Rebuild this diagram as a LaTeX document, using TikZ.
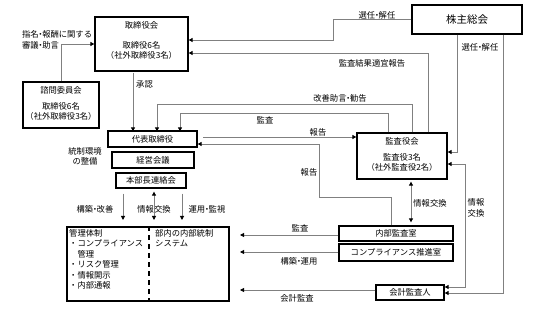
\documentclass[tikz,border=0pt]{standalone}
\usepackage{fontspec}
\setmainfont{Noto Sans CJK JP}
\usetikzlibrary{arrows.meta}
\newcommand{\nd}{\makebox[0.42em][c]{・}}
\begin{document}
\begin{tikzpicture}[x=1pt,y=-1pt,
  box/.style={draw=black, line width=1.3pt, inner sep=0pt},
  lbl/.style={font=\fontsize{8.3}{10.5}\selectfont, inner sep=0pt, align=center},
  conn/.style={draw=black!50, line width=0.9pt},
  tip/.style={-{Triangle[length=4pt,width=4pt,color=black]}},
  tips/.style={{Triangle[length=4pt,width=4pt,color=black]}-{Triangle[length=4pt,width=4pt,color=black]}}
]
\useasboundingbox (0,0) rectangle (533,315);

% boxes
\node[box, minimum width=93pt, minimum height=54pt] (tor) at (141.5,44) {};
\node[lbl] (torT) at (141.5,25.5) {取締役会};
\node[lbl] (torB) at (141.5,50.5) {取締役6名\\（社外取締役3名）};

\node[box, minimum width=76pt, minimum height=46pt] (shimon) at (61,105) {};
\node[lbl] (shimonT) at (61,90.5) {諮問委員会};
\node[lbl] (shimonB) at (61,111.5) {取締役6名\\（社外取締役3名）};

\node[box, minimum width=110pt, minimum height=29pt, font=\fontsize{10.5}{12}\selectfont] (kabu) at (467,19.5) {株主総会};

\node[box, minimum width=89pt, minimum height=16pt, lbl] (daihyo) at (152.5,139) {代表取締役};
\node[box, minimum width=82pt, minimum height=16pt, lbl] (keiei) at (153,160) {経営会議};
\node[box, minimum width=70pt, minimum height=15pt, lbl] (honbu) at (151,180.5) {本部長連絡会};

\node[box, minimum width=90pt, minimum height=46pt] (kansa) at (402,156) {};
\node[lbl] (kansaT) at (402,141.5) {監査役会};
\node[lbl] (kansaB) at (402,162.5) {監査役3名\\（社外監査役2名）};

\node[box, minimum width=114pt, minimum height=15pt, lbl] (naibu) at (396,233.5) {内部監査室};
\node[box, minimum width=114pt, minimum height=17pt, lbl] (comp) at (396,252.5) {コンプライアンス推進室};
\node[box, minimum width=68pt, minimum height=15pt, lbl] (kaikei) at (410,292.5) {会計監査人};

\node[box, minimum width=162pt, minimum height=74pt] (kanri) at (148,264) {};
\draw[line width=1.3pt, dash pattern=on 5pt off 4pt] (kanri.north -| 149,0) -- (kanri.south -| 149,0);
\node[lbl, anchor=north west, align=left] (kanriL) at (69,229) {管理体制\\・コンプライアンス\\\hspace*{8.3pt}管理\\・リスク管理\\・情報開示\\・内部通報};
\node[lbl, anchor=north west, align=left] (kanriR) at (155,229) {部内の内部統制\\システム};

% labels
\node[lbl, anchor=west, align=left] (lShimon) at (22,40) {指名\nd 報酬に関する\\審議\nd 助言};
\node[lbl] (lSen1) at (377,15) {選任\nd 解任};
\node[lbl] (lKekka) at (372,63) {監査結果適宜報告};
\node[lbl] (lKaizen) at (340,98.5) {改善助言\nd 勧告};
\node[lbl] (lKansa1) at (265,120) {監査};
\node[lbl, anchor=west] (lShonin) at (136,85) {承認};
\node[lbl] (lHoukoku1) at (318,132) {報告};
\node[lbl] (lHoukoku2) at (309,172) {報告};
\node[lbl] (lSen2) at (480,47.5) {選任\nd 解任};
\node[lbl] (lJoho1) at (476,208) {情報\\交換};
\node[lbl] (lJoho2) at (430,203) {情報交換};
\node[lbl] (lKansa2) at (300,228.5) {監査};
\node[lbl] (lKouchiku) at (299,261) {構築\nd 運用};
\node[lbl] (lKaikei) at (297,298.5) {会計監査};
\node[lbl] (lTosei) at (85,156.5) {統制環境\\の整備};
\node[lbl] (lKK) at (95,209) {構築\nd 改善};
\node[lbl] (lJK) at (154,209) {情報交換};
\node[lbl] (lUK) at (207,209) {運用\nd 監視};

% connectors
\draw[conn,tip] (shimon.north) |- (tor.west);

\coordinate (c1) at (333,40);
\draw[conn,tip] (kabu.west) -| (c1) -- (c1 -| tor.east);

\coordinate (c2) at (428,53);
\draw[conn,tip] (kansa.north -| c2) -- (c2) -- (c2 -| tor.east);

\coordinate (c3a) at (412,104);
\coordinate (c3b) at (157,104);
\draw[conn,tip] (kansa.north -| c3a) -- (c3a) -- (c3b) -- ([yshift=-1pt]c3b |- daihyo.north);

\coordinate (c4a) at (388,113);
\coordinate (c4b) at (180,113);
\draw[conn,tip] (kansa.north -| c4a) -- (c4a) -- (c4b) -- ([yshift=-1pt]c4b |- daihyo.north);

\coordinate (c5) at (133,0);
\draw[conn,tip,shorten <=1pt] (tor.south -| c5) -- ([yshift=-1pt]daihyo.north -| c5);

\coordinate (c6) at (203,137);
\draw[conn,tip] (c6) -- (c6 -| kansa.west);

\coordinate (c7a) at (391,197);
\coordinate (c7b) at (319,197);
\coordinate (c7c) at (319,144);
\draw[conn,tip] (naibu.north -| c7a) -- (c7a) -- (c7b) -- (c7c) -- (c7c -| daihyo.east);

\coordinate (c8) at (457,152);
\draw[conn,tip] (kabu.south -| c8) -- (c8) -- (c8 -| kansa.east);

\coordinate (c9) at (503,293);
\draw[conn,tip] (kabu.south -| c9) -- (c9) -- (c9 -| kaikei.east);

\coordinate (c10a) at (465,164);
\coordinate (c10b) at (465,287);
\draw[conn,tips] (c10a -| kansa.east) -- (c10a) -- (c10b) -- (c10b -| kaikei.east);

\coordinate (c11) at (411,0);
\draw[conn,tips,shorten <=2pt,shorten >=3pt] (kansa.south -| c11) -- (naibu.north -| c11);

\coordinate (c12) at (240,235);
\draw[conn,tip] (naibu.west |- c12) -- (c12);
\coordinate (c13) at (240,252);
\draw[conn,tip] (comp.west |- c13) -- (c13);
\coordinate (c14) at (240,290);
\draw[conn,tip] (kaikei.west |- c14) -- (c14);

\coordinate (d1) at (123,220);
\draw[conn,tip,shorten <=5pt] (honbu.south -| d1) -- (d1);
\coordinate (d2) at (154,220);
\draw[conn,tips,shorten <=3pt] (honbu.south -| d2) -- (d2);
\coordinate (d3) at (182,220);
\draw[conn,tip,shorten <=5pt] (honbu.south -| d3) -- (d3);

\end{tikzpicture}
\end{document}
